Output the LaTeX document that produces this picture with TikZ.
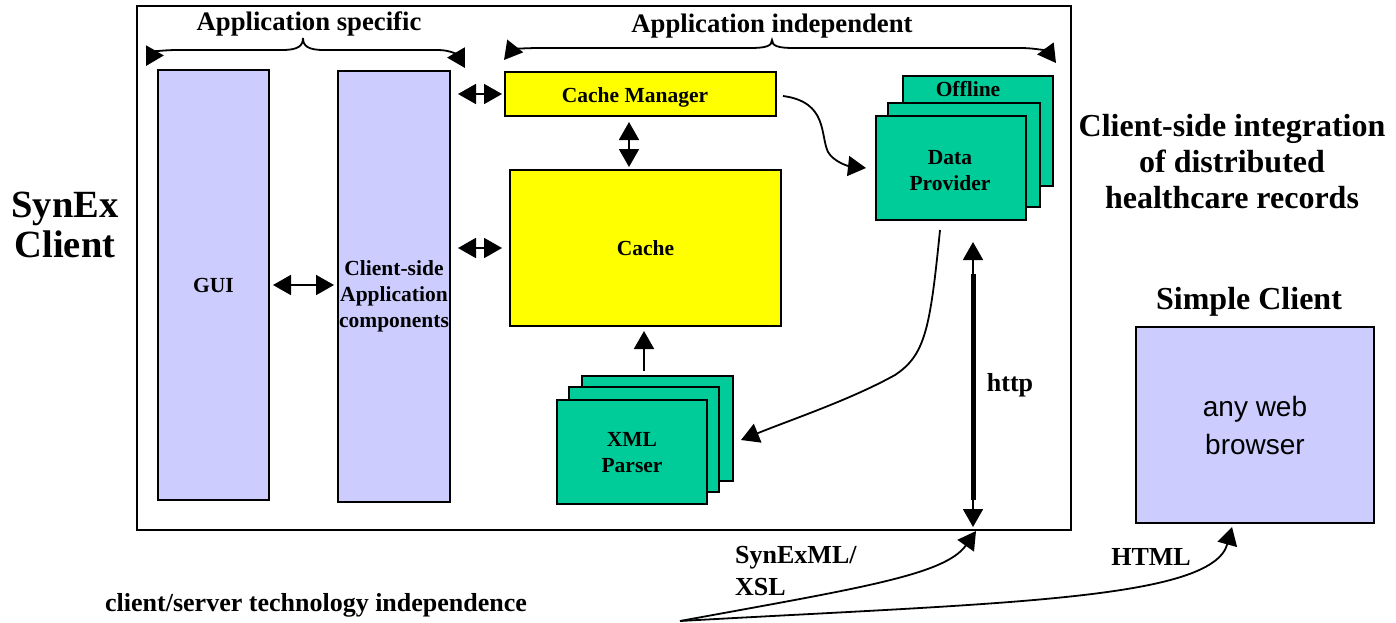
\documentclass[tikz,border=0pt]{standalone}
\usepackage{fontspec}
\setmainfont{Liberation Serif}
\newfontfamily\arialfont{Liberation Sans}
\usetikzlibrary{arrows.meta}
\definecolor{lav}{HTML}{CCCCFF}
\definecolor{yel}{HTML}{FFFF00}
\definecolor{grn}{HTML}{00CC99}
\tikzset{
  box/.style={draw=black, line width=2pt, inner sep=0pt, align=center,
    font=\fontsize{21.5}{26}\selectfont\bfseries},
  lavbox/.style={box, fill=lav},
  yelbox/.style={box, fill=yel},
  grnbox/.style={box, fill=grn},
  boxtxt/.style={inner sep=0pt, align=center, font=\fontsize{21.5}{26}\selectfont\bfseries},
  lbl/.style={font=\fontsize{26}{32}\selectfont\bfseries, inner sep=0pt, align=left},
  toplbl/.style={font=\fontsize{26.7}{32}\selectfont\bfseries, inner sep=0pt},
  big/.style={font=\fontsize{32}{36}\selectfont\bfseries, inner sep=0pt, align=center},
  conn/.style={line width=1.8pt},
  dbl/.style={conn, <->},
  sgl/.style={conn, ->},
}
\begin{document}
\begin{tikzpicture}[x=1pt,y=-1pt, >={Triangle[length=18pt,width=20pt]}]
\useasboundingbox (0,0) rectangle (1396,622);
% frame
\node[draw, line width=1.8pt, minimum width=934pt, minimum height=524pt, inner sep=0pt] (frame) at (604,268) {};
% top braces
\node[toplbl] (appspec) at (309,24) {Application specific};
\node[toplbl] (appind) at (772,26) {Application independent};
\coordinate (bl1) at (146,66);
\coordinate (bl2) at (465,68);
\draw[dbl] (bl1) .. controls (154,52) and (162,50) .. (178,50) -- (282,50)
  .. controls (298,50) and (303,46) .. (303,38)
  .. controls (303,46) and (308,50) .. (324,50) -- (438,50)
  .. controls (452,50) and (458,56) .. (bl2);
\coordinate (br1) at (504,60);
\coordinate (br2) at (1056,63);
\draw[dbl] (br1) .. controls (512,50) and (520,48) .. (540,48) -- (750,48)
  .. controls (766,48) and (772,46) .. (772,40)
  .. controls (772,46) and (778,48) .. (794,48) -- (1020,48)
  .. controls (1038,48) and (1048,52) .. (br2);
% boxes
\node[lavbox, minimum width=111pt, minimum height=430pt] (gui) at (213.5,285) {GUI};
\node[lavbox, minimum width=112pt, minimum height=431pt] (csa) at (394,286.5) {};
\node[boxtxt] (csatxt) at (394,296) {Client-side\\Application\\components};
\node[yelbox, minimum width=271pt, minimum height=44pt] (cm) at (640.5,94) {};
\node[boxtxt] (cmtxt) at (635,97) {Cache Manager};
\node[yelbox, minimum width=271pt, minimum height=156pt] (cache) at (645.5,248) {Cache};
% XML parser stack
\node[grnbox, minimum width=151pt, minimum height=105pt] (xmlb) at (657.5,428.5) {};
\node[grnbox, minimum width=150pt, minimum height=105pt] (xmlm) at (644,439.5) {};
\node[grnbox, minimum width=150pt, minimum height=104pt] (xmlf) at (631.5,452) {};
\node[boxtxt] (xmltxt) at (632,453) {XML\\Parser};
% Data provider stack
\node[grnbox, minimum width=150pt, minimum height=110pt] (dpb) at (978,131) {};
\node[boxtxt] (offl) at (968,89) {Offline};
\node[grnbox, minimum width=152pt, minimum height=104pt] (dpm) at (964,155) {};
\node[grnbox, minimum width=150pt, minimum height=104pt] (dpf) at (951,168) {};
\node[boxtxt] (dptxt) at (950,171) {Data\\Provider};
% connectors inside
\draw[dbl, shorten <=3pt, shorten >=3pt] (gui.east |- 0,285) -- (csa.west |- 0,285);
\draw[dbl, shorten <=7pt, shorten >=2pt] (csa.east |- cm.west) -- (cm.west);
\draw[dbl, shorten <=7pt, shorten >=7pt] (csa.east |- cache.west) -- (cache.west);
\draw[dbl, shorten <=5pt, shorten >=2pt] (cm.south -| 629,0) -- (cache.north -| 629,0);
\draw[sgl, shorten <=4pt, shorten >=4pt] (xmlb.north -| xmlm.north) -- (cache.south -| xmlm.north);
\coordinate (cmout) at (783,96);
\coordinate (dpin) at (866,168);
\draw[sgl] (cmout) .. controls (828,102) and (820,135) .. (828,152) .. controls (834,162) and (848,166) .. (dpin);
\coordinate (dpout) at (940,230);
\coordinate (xmlin) at (741,440);
\draw[sgl] (dpout) .. controls (930,330) and (925,355) .. (895,375) .. controls (850,400) and (790,420) .. (xmlin);
% http
\coordinate (htop) at (973,242);
\coordinate (hbot) at (973,527);
\draw[line width=5pt] (973,274) -- (973,500);
\draw[dbl] (htop) -- (hbot);
\node[lbl] (http) at (1010,385) {http};
% simple client
\node[big] (sctitle) at (1249,302) {Simple Client};
\node[lavbox, minimum width=238pt, minimum height=196pt, font=\arialfont\fontsize{28}{38}\selectfont] (sc) at (1255,425) {\rule{0pt}{12pt}any web\\browser};
% right/left titles
\node[big] (integr) at (1232,162) {Client-side integration\\of distributed\\healthcare records};
\node[font=\fontsize{38.5}{40}\selectfont\bfseries, inner sep=0pt, align=center] (synex) at (65,225) {SynEx\\Client};
% bottom
\node[lbl, anchor=west] (cs) at (105,605) {client/server technology independence};
\node[lbl, anchor=north west] (synxml) at (735,546) {SynExML/\\XSL};
\node[lbl] (html) at (1151,557) {HTML};
\coordinate (bstart) at (680,621);
\coordinate (synend) at (976,531);
\coordinate (htmlend) at (1232,527);
\draw[sgl] (bstart) .. controls (860,588) and (945,575) .. (synend);
\draw[sgl] (bstart) .. controls (1000,603) and (1212,600) .. (htmlend);
\end{tikzpicture}
\end{document}
